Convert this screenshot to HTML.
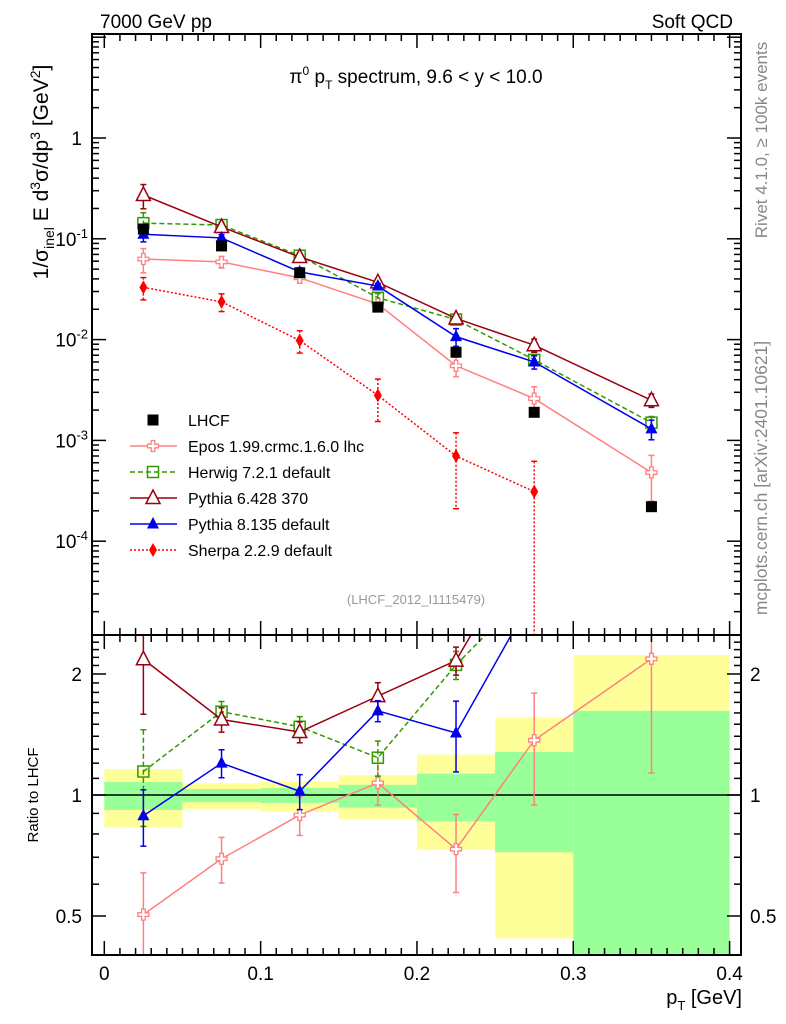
<!DOCTYPE html>
<html><head><meta charset="utf-8">
<style>
html,body{margin:0;padding:0;background:#fff;}
svg{display:block;font-family:"Liberation Sans",Arial,sans-serif;}
</style></head>
<body>
<svg id="chart" width="786" height="1024" viewBox="0 0 786 1024" xmlns="http://www.w3.org/2000/svg">
<text x="100" y="28" font-size="19">7000 GeV pp</text>
<text x="733" y="28" font-size="19" text-anchor="end">Soft QCD</text>
<text x="416" y="83" font-size="19" text-anchor="middle">π<tspan dy="-8" font-size="12">0</tspan><tspan dy="8"> p</tspan><tspan dy="6" font-size="12">T</tspan><tspan dy="-6"> spectrum, 9.6 &lt; y &lt; 10.0</tspan></text>
<text transform="translate(48,172) rotate(-90)" font-size="21" text-anchor="middle">1/σ<tspan dy="6" font-size="14">inel</tspan><tspan dy="-6"> E d</tspan><tspan dy="-8" font-size="14">3</tspan><tspan dy="8">σ/dp</tspan><tspan dy="-8" font-size="14">3</tspan><tspan dy="8"> [GeV</tspan><tspan dy="-8" font-size="14">2</tspan><tspan dy="8">]</tspan></text>
<text transform="translate(38,795) rotate(-90)" font-size="15" text-anchor="middle">Ratio to LHCF</text>
<text x="742" y="1004" font-size="20" text-anchor="end">p<tspan dy="6" font-size="13">T</tspan><tspan dy="-6"> [GeV]</tspan></text>
<text transform="translate(767,140) rotate(-90)" font-size="17" fill="#888" text-anchor="middle">Rivet 4.1.0, ≥ 100k events</text>
<text transform="translate(767,478) rotate(-90)" font-size="17.5" fill="#888" text-anchor="middle">mcplots.cern.ch [arXiv:2401.10621]</text>
<text x="416" y="604" font-size="13" fill="#999" text-anchor="middle">(LHCF_2012_I1115479)</text>
<g id="g"></g>
</svg>
<script>
const xCenters=[0.025,0.075,0.125,0.175,0.225,0.275,0.35];
const binEdges=[0,0.05,0.1,0.15,0.2,0.25,0.3,0.4];
const lhcf=[0.125,0.085,0.046,0.021,0.0075,0.0019,0.00022];
const bandGreenHi=[1.077,1.035,1.04,1.06,1.13,1.28,1.62];
const bandGreenLo=[0.918,0.96,0.955,0.93,0.86,0.72,0.3];
const bandYellowHi=[1.16,1.07,1.08,1.12,1.26,1.56,2.23];
const bandYellowLo=[0.83,0.92,0.91,0.87,0.73,0.44,0.3];
const epos=[0.063,0.059,0.041,0.0225,0.0055,0.0026,0.00048];
const eposErr=[0.27,0.13,0.11,0.12,0.22,0.31,0.48];
const herwig=[0.143,0.137,0.068,0.026,0.0158,0.0063,0.0015];
const herwigErr=[0.27,0.06,0.06,0.1,0.08,0.1,0.15];
const pythia6=[0.272,0.131,0.066,0.037,0.0162,0.0088,0.0025];
const pythia6Err=[0.27,0.07,0.06,0.08,0.08,0.15,0.15];
const pythia8=[0.111,0.102,0.047,0.034,0.0107,0.006,0.0013];
const pythia8Err=[0.16,0.08,0.1,0.06,0.2,0.15,0.22];
const sherpa=[0.033,0.0237,0.0098,0.0028,0.0007,0.00031];
const sherpaErr=[0.25,0.2,0.25,0.45,0.7,1.0];
const mainTicks=["1","10","10","10","10"];
const mainExp=["","-1","-2","-3","-4"];
const ratioTicks=[2,1,0.5];

const NS="http://www.w3.org/2000/svg";
const G=document.getElementById('g');
const L=92,R=741,T=34,MB=635,RB=955;
const xs=v=>104.3+(v/0.4)*(729.6-104.3);
const ys=v=>138-Math.log10(v)*100.8;
const yr=v=>795-Math.log2(v)*121;
function el(t,a,p){const e=document.createElementNS(NS,t);for(const k in a)e.setAttribute(k,a[k]);(p||G).appendChild(e);return e;}
const defs=el('defs',{});
const c1=el('clipPath',{id:'cm'},defs);el('rect',{x:L,y:T,width:R-L,height:MB-T},c1);
const c2=el('clipPath',{id:'cr'},defs);el('rect',{x:L,y:MB,width:R-L,height:RB-MB},c2);
const gm=el('g',{'clip-path':'url(#cm)'});


const gr=el('g',{'clip-path':'url(#cr)'});


for(let i=0;i<7;i++){
  const x0=xs(binEdges[i]),x1=xs(binEdges[i+1]);
  const b=el('rect',{x:x0,y:yr(bandYellowHi[i]),width:x1-x0,height:yr(bandYellowLo[i])-yr(bandYellowHi[i]),fill:'#ffff99'},gr);
  
  
  const g2=el('rect',{x:x0,y:yr(bandGreenHi[i]),width:x1-x0,height:yr(bandGreenLo[i])-yr(bandGreenHi[i]),fill:'#99ff99'},gr);
  
  
}
el('line',{x1:L,x2:R,y1:yr(1),y2:yr(1),stroke:'#000','stroke-width':1.5},gr);
function marker(p,type,x,y,col){
  let m;
  if(type==='sq') m=el('rect',{x:x-5.5,y:y-5.5,width:11,height:11,fill:'#000'},p);
  else if(type==='osq') m=el('rect',{x:x-5.5,y:y-5.5,width:11,height:11,fill:'none',stroke:col,'stroke-width':1.5},p);
  else if(type==='otri') m=el('path',{d:`M${x},${y-8}L${x+7},${y+5.5}L${x-7},${y+5.5}Z`,fill:'#fff',stroke:col,'stroke-width':1.5},p);
  else if(type==='tri') m=el('path',{d:`M${x},${y-7}L${x+6},${y+4.5}L${x-6},${y+4.5}Z`,fill:col},p);
  else if(type==='dia') m=el('path',{d:`M${x},${y-7}L${x+4},${y}L${x},${y+7}L${x-4},${y}Z`,fill:col},p);
  else if(type==='cross') m=el('path',{d:`M${x-1.8},${y-5.5}h3.6v3.7h3.7v3.6h-3.7v3.7h-3.6v-3.7h-3.7v-3.6h3.7Z`,fill:'#fff',stroke:col,'stroke-width':1.3},p);
  
  
}
const series=[
 {name:'epos',vals:epos,err:eposErr,col:'#ff8080',dash:'',type:'cross',label:'Epos 1.99.crmc.1.6.0 lhc'},
 {name:'herwig',vals:herwig,err:herwigErr,col:'#339900',dash:'5,3',type:'osq',label:'Herwig 7.2.1 default'},
 {name:'pythia6',vals:pythia6,err:pythia6Err,col:'#990011',dash:'',type:'otri',label:'Pythia 6.428 370'},
 {name:'pythia8',vals:pythia8,err:pythia8Err,col:'#0000ee',dash:'',type:'tri',label:'Pythia 8.135 default'},
 {name:'sherpa',vals:sherpa,err:sherpaErr,col:'#ff0000',dash:'2,2',type:'dia',label:'Sherpa 2.2.9 default'}
];
function drawSeries(p,s,fy,ratio){
  const n=s.vals.length;
  const val=i=>ratio?s.vals[i]/lhcf[i]:s.vals[i];
  const pts=[];for(let i=0;i<n;i++)pts.push(xs(xCenters[i])+','+fy(val(i)));
  const pl=el('polyline',{points:pts.join(' '),fill:'none',stroke:s.col,'stroke-width':1.5,'stroke-dasharray':s.dash},p);
  
  
  for(let i=0;i<n;i++){
    const v=val(i),x=xs(xCenters[i]);
    const hi=fy(v*(1+s.err[i])),lo=fy(Math.max(v*(1-s.err[i]),1e-9));
    el('line',{x1:x,x2:x,y1:hi,y2:lo,stroke:s.col,'stroke-width':1.5,'stroke-dasharray':s.dash},p);
    el('line',{x1:x-3,x2:x+3,y1:hi,y2:hi,stroke:s.col,'stroke-width':1.5},p);
    el('line',{x1:x-3,x2:x+3,y1:lo,y2:lo,stroke:s.col,'stroke-width':1.5},p);
    marker(p,s.type,x,fy(v),s.col);
  }
}
series.forEach(s=>drawSeries(gm,s,ys,false));
series.filter(s=>s.name!=='sherpa').forEach(s=>drawSeries(gr,s,yr,true));
for(let i=0;i<lhcf.length;i++)marker(gm,'sq',xs(xCenters[i]),ys(lhcf[i]),'#000');
const lg=el('g',{});


const ly0=420,ld=26;
marker(lg,'sq',153,ly0,'#000');
el('text',{x:188,y:ly0+6,'font-size':16},lg).textContent='LHCF';
series.forEach((s,k)=>{
  const y=ly0+ld*(k+1);
  const e=el('g',{},lg);
  
  
  el('line',{x1:130,x2:177,y1:y,y2:y,stroke:s.col,'stroke-width':1.5,'stroke-dasharray':s.dash},e);
  marker(e,s.type,153,y,s.col);
  el('text',{x:188,y:y+6,'font-size':16},e).textContent=s.label;
});
el('rect',{x:L,y:T,width:R-L,height:MB-T,fill:'none',stroke:'#000','stroke-width':2});
el('rect',{x:L,y:MB,width:R-L,height:RB-MB,fill:'none',stroke:'#000','stroke-width':2});
for(let k=0;k<=40;k++){
  const v=k/100,x=xs(v),maj=k%10===0,len=maj?14:7;
  [T,MB].forEach(y0=>el('line',{x1:x,x2:x,y1:y0,y2:y0+len,stroke:'#000','stroke-width':1.5}));
  [MB,RB].forEach(y0=>el('line',{x1:x,x2:x,y1:y0,y2:y0-len,stroke:'#000','stroke-width':1.5}));
  if(maj){const t=el('text',{x:x,y:980,'font-size':19,'text-anchor':'middle'});t.textContent=k===0?'0':(v.toFixed(1));
    }
}
for(let d=-5;d<=1;d++){for(let m=1;m<10;m++){
  const v=m*Math.pow(10,d),y=ys(v);if(y<T||y>MB)continue;
  const len=m===1?14:7;
  el('line',{x1:L,x2:L+len,y1:y,y2:y,stroke:'#000','stroke-width':1.5});
  el('line',{x1:R,x2:R-len,y1:y,y2:y,stroke:'#000','stroke-width':1.5});
}}
for(let i=0;i<mainTicks.length;i++){
  const y=ys(Math.pow(10,-i));
  const t=el('text',{x:82,y:y+7,'font-size':19,'text-anchor':'end'});
  
  if(i===0)t.textContent=mainTicks[i];
  else{t.textContent=mainTicks[i];const s=document.createElementNS(NS,'tspan');s.setAttribute('dy','-8');s.setAttribute('font-size','13');s.textContent=mainExp[i];t.appendChild(s);t.setAttribute('x',88);}
}
for(let v=0.3;v<=2.5;v+=0.1){
  const y=yr(v);if(y<MB||y>RB)continue;
  const maj=Math.abs(v-0.5)<1e-6||Math.abs(v-1)<1e-6||Math.abs(v-2)<1e-6,len=maj?14:7;
  el('line',{x1:L,x2:L+len,y1:y,y2:y,stroke:'#000','stroke-width':1.5});
  el('line',{x1:R,x2:R-len,y1:y,y2:y,stroke:'#000','stroke-width':1.5});
}
ratioTicks.forEach(v=>{
  const y=yr(v);
  const a=el('text',{x:82,y:y+7,'font-size':19,'text-anchor':'end'});a.textContent=String(v);
  
  const b=el('text',{x:750,y:y+7,'font-size':19});b.textContent=String(v);
  
});
</script>
</body></html>
